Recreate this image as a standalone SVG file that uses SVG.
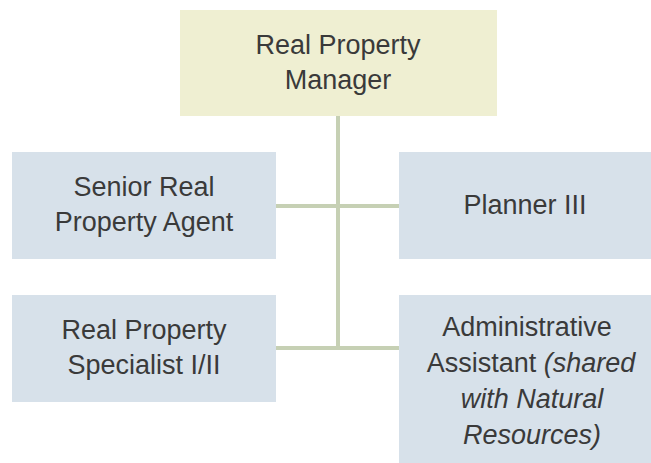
<svg xmlns="http://www.w3.org/2000/svg" width="651" height="463" viewBox="0 0 651 463">
<style>
.box{fill:#d7e1ea}
.top{fill:#efefd2}
.t{font-family:"Liberation Sans","DejaVu Sans",sans-serif;font-size:27px;fill:#3a3a3a;text-anchor:middle}
.i{font-style:italic}
.c{stroke:#c6d0b4;stroke-width:4;fill:none}
</style>
<rect width="651" height="463" fill="#ffffff"/>
<g id="connectors">
<line class="c" x1="338" y1="116" x2="338" y2="348"/>
<line class="c" x1="276" y1="206" x2="399" y2="206"/>
<line class="c" x1="276" y1="348" x2="399" y2="348"/>
</g>
<g id="manager">
<rect class="top" x="180" y="10" width="317" height="106"/>
<text class="t" x="338" y="54">Real Property</text>
<text class="t" x="338" y="89">Manager</text>
</g>
<g id="senior-agent">
<rect class="box" x="12" y="152" width="264" height="107"/>
<text class="t" x="144" y="196">Senior Real</text>
<text class="t" x="144" y="231">Property Agent</text>
</g>
<g id="planner">
<rect class="box" x="399" y="152" width="252" height="107"/>
<text class="t" x="525" y="214">Planner III</text>
</g>
<g id="specialist">
<rect class="box" x="12" y="295" width="264" height="107"/>
<text class="t" x="144" y="339">Real Property</text>
<text class="t" x="144" y="374">Specialist I/II</text>
</g>
<g id="admin">
<rect class="box" x="399" y="295" width="252" height="168"/>
<text class="t" x="527" y="336">Administrative</text>
<text class="t" x="531" y="372">Assistant <tspan class="i">(shared</tspan></text>
<text class="t i" x="532" y="408">with Natural</text>
<text class="t i" x="532" y="444">Resources)</text>
</g>
</svg>
